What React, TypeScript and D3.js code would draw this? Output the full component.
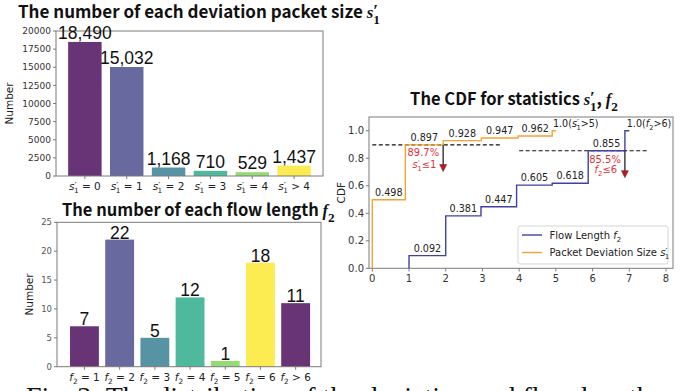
import React from "react";
import * as d3 from "d3";

// bar chart 1: deviation packet size s'1
const sizeLabels = ["= 0", "= 1", "= 2", "= 3", "= 4", "> 4"];
const sizeCounts = [18490, 15032, 1168, 710, 529, 1437];
const sizeYTicks = [0, 2500, 5000, 7500, 10000, 12500, 15000, 17500, 20000];

// bar chart 2: flow length f2
const flowLabels = ["= 1", "= 2", "= 3", "= 4", "= 5", "= 6", "> 6"];
const flowCounts = [7, 22, 5, 12, 1, 18, 11];
const flowYTicks = [0, 5, 10, 15, 20, 25];

const barColors = ["#440154", "#414487", "#2a788e", "#22a884", "#7ad151", "#fde725"];

// CDF steps (x where each level starts)
const devStepX = [0, 0.9, 1.93, 2.97, 3.97, 4.9];
const devCdf = [0.498, 0.897, 0.928, 0.947, 0.962, 1.0];
const devEndX = 5.0;
const flowStepX = [1.0, 2.0, 2.96, 3.93, 4.9, 5.88, 6.88];
const flowCdf = [0.092, 0.381, 0.447, 0.605, 0.618, 0.855, 1.0];
const flowEndX = 7.0;
const cdfXTicks = [0, 1, 2, 3, 4, 5, 6, 7, 8];
const cdfYTicks = [0, 0.2, 0.4, 0.6, 0.8, 1.0];

const SANS = "DejaVu Sans, sans-serif";
const TITLE = "'Noto Sans CJK SC', 'Noto Sans', sans-serif";
const NUM = "'Liberation Sans', Arial, sans-serif";
const SERIF = "'Liberation Serif', 'DejaVu Serif', serif";
const SPINE = "#7a7a7a";
const DEV = "#f5a330";
const FLOW = "#42429e";
const RED = "#e2313d";

// s'_1 as tspans: prime above the subscript
function sPrime(fs: number, rest: string, family?: string, weight?: string) {
  return [
    <tspan key="s" fontStyle="italic" fontFamily={family} fontWeight={weight}>s</tspan>,
    <tspan key="p" fontSize={fs * 0.9} dy={-fs * 0.12} fontFamily={family} fontWeight={weight}>′</tspan>,
    <tspan key="1" fontSize={fs * 0.7} dx={-fs * 0.26} dy={fs * 0.42} fontFamily={family} fontWeight={weight}>1</tspan>,
    <tspan key="r" dy={-fs * 0.3}>{rest}</tspan>,
  ];
}

function fSub(fs: number, rest: string, family?: string, weight?: string) {
  return [
    <tspan key="f" fontStyle="italic" fontFamily={family} fontWeight={weight}>f</tspan>,
    <tspan key="2" fontSize={fs * 0.7} dy={fs * 0.3} fontFamily={family} fontWeight={weight}>2</tspan>,
    <tspan key="r" dy={-fs * 0.3}>{rest}</tspan>,
  ];
}

function BarChart(props: {
  counts: number[];
  labels: string[];
  yTicks: number[];
  xr: [number, number];
  yr: [number, number];
  dom: [number, number];
  yMax: number;
  bw: number;
  tickFs: number;
  tickColor: string;
  yLabelX: number;
  mathTick: (fs: number, rest: string) => React.ReactNode;
  lift: number;
}) {
  const { counts, labels, yTicks, xr, yr, dom, yMax, bw, tickFs, tickColor, yLabelX, mathTick, lift } = props;
  const x = d3.scaleLinear().domain(dom).range(xr);
  const y = d3.scaleLinear().domain([0, yMax]).range(yr);
  const unit = x(1) - x(0);
  return (
    <g>
      {counts.map((c, i) => (
        <rect
          key={i}
          x={x(i) - (unit * bw) / 2}
          y={y(c)}
          width={unit * bw}
          height={y(0) - y(c)}
          fill={barColors[i % barColors.length]}
          fillOpacity={0.8}
        />
      ))}
      <rect x={xr[0]} y={yr[1]} width={xr[1] - xr[0]} height={yr[0] - yr[1]} fill="none" stroke={SPINE} strokeWidth={1} />
      {yTicks.map((t) => (
        <g key={t}>
          <line x1={xr[0] - 3} x2={xr[0]} y1={y(t)} y2={y(t)} stroke={SPINE} />
          <text x={xr[0] - 5} y={y(t) + tickFs * 0.36} textAnchor="end" fontSize={tickFs} fontFamily={SANS} fill={tickColor}>
            {t}
          </text>
        </g>
      ))}
      <text
        transform={`translate(${yLabelX},${(yr[0] + yr[1]) / 2}) rotate(-90)`}
        textAnchor="middle"
        fontSize={10.5}
        fontFamily={SANS}
        fill="#222"
      >
        Number
      </text>
      {labels.map((l, i) => (
        <g key={i}>
          <line x1={x(i)} x2={x(i)} y1={yr[0]} y2={yr[0] + 3} stroke={SPINE} />
          <text x={x(i)} y={yr[0] + 14} textAnchor="middle" fontSize={10.5} fontFamily={SANS} fill="#222">
            {mathTick(10.5, " " + l)}
          </text>
        </g>
      ))}
      {counts.map((c, i) => (
        <text key={i} x={x(i)} y={y(c) - lift} textAnchor="middle" fontSize={17.5} fontFamily={NUM} fill="#111">
          {d3.format(",")(c)}
        </text>
      ))}
    </g>
  );
}

function CdfChart() {
  const x = d3.scaleLinear().domain([-0.09, 8.19]).range([369, 673]);
  const y = d3.scaleLinear().domain([0, 1.1]).range([268.3, 117]);
  const step = d3
    .line<[number, number]>()
    .x((d) => x(d[0]))
    .y((d) => y(d[1]))
    .curve(d3.curveStepAfter);
  const devPts: [number, number][] = [[devStepX[0], 0], ...devStepX.map((s, i) => [s, devCdf[i]] as [number, number]), [devEndX, 1.0]];
  const flowPts: [number, number][] = [[flowStepX[0], 0], ...flowStepX.map((s, i) => [s, flowCdf[i]] as [number, number]), [flowEndX, 1.0]];
  const lbl = (xs: number[], vals: number[], end: number) =>
    vals.slice(0, -1).map((v, i) => {
      const nx = i + 1 < xs.length ? xs[i + 1] : end;
      return (
        <text key={i} x={x((xs[i] + nx) / 2)} y={y(v + 0.028)} textAnchor="middle" fontSize={9.6} fontFamily={SANS} fill="#222">
          {d3.format(".3f")(v)}
        </text>
      );
    });
  const arrow = (ax: number, from: number, to: number) => (
    <g>
      <line x1={x(ax)} x2={x(ax)} y1={y(from)} y2={y(to) - 6} stroke="#333" strokeWidth={1.4} />
      <polygon
        points={`${x(ax) - 3.5},${y(to) - 7} ${x(ax) + 3.5},${y(to) - 7} ${x(ax)},${y(to)}`}
        fill="#d0101a"
        stroke="#333"
        strokeWidth={0.5}
      />
    </g>
  );
  return (
    <g>
      <text x={514} y={105} textAnchor="middle" fontSize={16.5} fontWeight="bold" fontFamily={TITLE} fill="#111">
        The CDF for statistics{" "}
        {sPrime(19, ",", SERIF, "bold")}
        <tspan> </tspan>
        {fSub(19, "", SERIF, "bold")}
      </text>
      <rect x={369} y={117} width={304} height={151.3} fill="none" stroke={SPINE} />
      {cdfXTicks.map((t) => (
        <g key={t}>
          <line x1={x(t)} x2={x(t)} y1={268.3} y2={271.5} stroke={SPINE} />
          <text x={x(t)} y={282} textAnchor="middle" fontSize={10} fontFamily={SANS} fill="#333">
            {t}
          </text>
        </g>
      ))}
      {cdfYTicks.map((t) => (
        <g key={t}>
          <line x1={365.8} x2={369} y1={y(t)} y2={y(t)} stroke={SPINE} />
          <text x={364} y={y(t) + 3.6} textAnchor="end" fontSize={10} fontFamily={SANS} fill="#333">
            {t.toFixed(1)}
          </text>
        </g>
      ))}
      <text transform={`translate(345,${y(0.55)}) rotate(-90)`} textAnchor="middle" fontSize={10.5} fontFamily={SANS} fill="#222">
        CDF
      </text>
      <line x1={x(0)} x2={x(3.5)} y1={y(devCdf[1])} y2={y(devCdf[1])} stroke="#111" strokeDasharray="4,2.5" strokeWidth={1.1} />
      <line x1={x(4)} x2={x(7.5)} y1={y(flowCdf[5])} y2={y(flowCdf[5])} stroke="#111" strokeDasharray="4,2.5" strokeWidth={1.1} />
      <path d={step(flowPts) ?? ""} fill="none" stroke={FLOW} strokeWidth={1.4} />
      <path d={step(devPts) ?? ""} fill="none" stroke={DEV} strokeWidth={1.4} />
      {lbl(devStepX, devCdf, devEndX)}
      {lbl(flowStepX, flowCdf, flowEndX)}
      <text x={x(devStepX[5] + 0.02)} y={y(1.027)} fontSize={9.6} fontFamily={SANS} fill="#222">
        1.0(
        {sPrime(9.6, ">5)")}
      </text>
      <text x={x(flowStepX[6] + 0.05)} y={y(1.027)} fontSize={9.6} fontFamily={SANS} fill="#222">
        1.0(
        {fSub(9.6, ">6)")}
      </text>
      {arrow(devStepX[2], devCdf[1], 0.703)}
      {arrow(flowStepX[6], flowCdf[5], 0.659)}
      <text x={x(1.39)} y={y(0.815)} textAnchor="middle" fontSize={10} fontFamily={SANS} fill={RED}>
        89.7%
      </text>
      <text x={x(1.42)} y={y(0.73)} textAnchor="middle" fontSize={10} fontFamily={SANS} fill={RED}>
        {sPrime(10, "≤1")}
      </text>
      <text x={x(6.34)} y={y(0.768)} textAnchor="middle" fontSize={10} fontFamily={SANS} fill={RED}>
        85.5%
      </text>
      <text x={x(6.36)} y={y(0.693)} textAnchor="middle" fontSize={10} fontFamily={SANS} fill={RED}>
        {fSub(10, "≤6")}
      </text>
      <rect x={518} y={226} width={150} height={38} rx={2} fill="#fff" fillOpacity={0.8} stroke="#d5d5d5" />
      <line x1={522} x2={542} y1={235} y2={235} stroke={FLOW} strokeWidth={1.4} />
      <text x={549.5} y={238.5} fontSize={10} fontFamily={SANS} fill="#222">
        Flow Length {fSub(10, "")}
      </text>
      <line x1={522} x2={542} y1={252.5} y2={252.5} stroke={DEV} strokeWidth={1.4} />
      <text x={549.5} y={256} fontSize={10} fontFamily={SANS} fill="#222">
        Packet Deviation Size {sPrime(10, "")}
      </text>
    </g>
  );
}

export default function App() {
  return (
    <svg width={692} height={391} style={{ position: "absolute", left: 0, top: 0, background: "#fff" }}>
      <rect width={692} height={391} fill="#fff" />
      <text x={18} y={18} fontSize={17} fontWeight="bold" fontFamily={TITLE} fill="#111">
        The number of each deviation packet size {sPrime(19, "", SERIF, "bold")}
      </text>
      <BarChart
        counts={sizeCounts}
        labels={sizeLabels}
        yTicks={sizeYTicks}
        xr={[56, 323]}
        yr={[176, 31]}
        dom={[-0.69, 5.69]}
        yMax={20000}
        bw={0.8}
        tickFs={9}
        tickColor="#333"
        yLabelX={13}
        mathTick={(fs, rest) => sPrime(fs, rest)}
        lift={3}
      />
      <text x={62} y={216} fontSize={16.5} fontWeight="bold" fontFamily={TITLE} fill="#111">
        The number of each flow length <tspan dx={-2}></tspan>
        {fSub(19, "", SERIF, "bold")}
      </text>
      <BarChart
        counts={flowCounts}
        labels={flowLabels}
        yTicks={flowYTicks}
        xr={[57, 321]}
        yr={[366.7, 222.3]}
        dom={[-0.78, 6.72]}
        yMax={25}
        bw={0.82}
        tickFs={8.5}
        tickColor="#555"
        yLabelX={33}
        mathTick={(fs, rest) => fSub(fs, rest)}
        lift={1}
      />
      <CdfChart />
      <text x={26} y={406} fontSize={28} fontFamily={SERIF} fill="#111">
        Fig. 3: The distribution of the deviation and flow length
      </text>
    </svg>
  );
}
